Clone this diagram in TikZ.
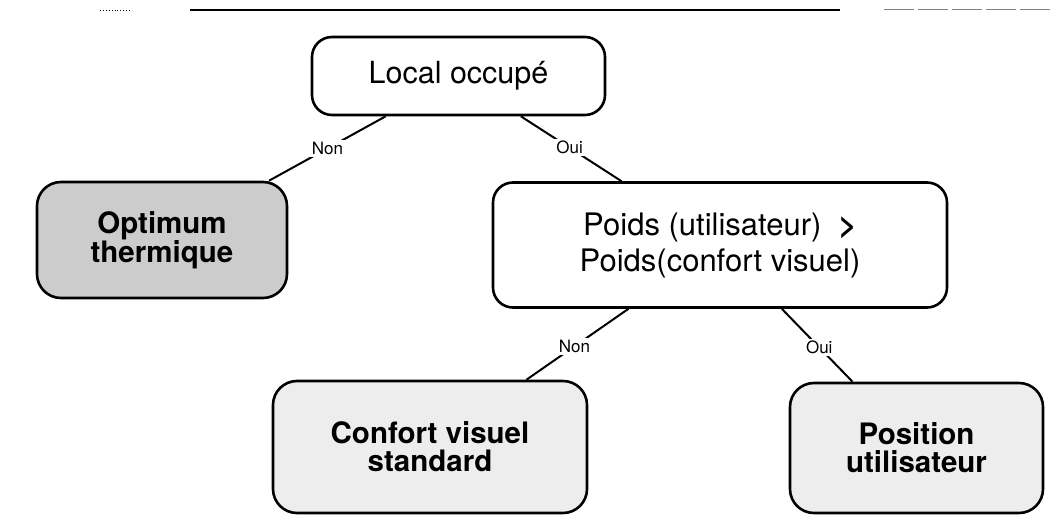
\documentclass[tikz,border=0pt]{standalone}
\usepackage{fontspec}
\setmainfont{TeX Gyre Heros}
\definecolor{shadeA}{gray}{0.80}
\definecolor{shadeB}{gray}{0.93}
\begin{document}
\begin{tikzpicture}[x=1pt,y=-1pt,
  box/.style={draw, line width=2.6pt, rounded corners=20pt, align=center, inner sep=0pt},
  big/.style={font=\fontsize{30.5}{28}\selectfont},
  bigb/.style={font=\fontsize{29.5}{28}\selectfont\bfseries},
  lbl/.style={fill=white, font=\fontsize{17}{17}\selectfont, inner sep=2pt},
  conn/.style={line width=2pt}]
\useasboundingbox (0,0) rectangle (1054,529);
% scan border line at top
\draw[line width=0.9pt, dotted] (100,10) -- (130,10);
\draw[line width=1.1pt] (190,10) -- (840,10);
\draw[line width=1pt, gray, dash pattern=on 30pt off 4pt] (884,10) -- (1050,10);
% nodes
\node[box, big, minimum width=293pt, minimum height=78pt] (top) at (458.5,76) {Local occupé};
\node[box, bigb, fill=shadeA, rounded corners=24pt, minimum width=250pt, minimum height=116pt] (opt) at (162,240) {Optimum\\thermique};
\node[box, font=\fontsize{31}{36}\selectfont, minimum width=454pt, minimum height=125pt] (poids) at (720,245) {Poids (utilisateur)~~\textbf{>}\\Poids(confort visuel)};
\node[box, bigb, fill=shadeB, rounded corners=24pt, minimum width=314pt, minimum height=132pt] (conf) at (430,447) {Confort visuel\\standard};
\node[box, bigb, fill=shadeB, rounded corners=24pt, minimum width=253pt, minimum height=130pt] (pos) at (916.5,448) {Position\\utilisateur};
% connectors
\draw[conn] (top) -- node[lbl, pos=0.5] (non1) {Non} (opt);
\draw[conn] (top) -- node[lbl, pos=0.485] (oui1) {Oui} (poids);
\draw[conn] (poids) -- node[lbl, pos=0.53] (non2) {Non} (conf);
\draw[conn] (poids) -- node[lbl, pos=0.53] (oui2) {Oui} (pos);
\end{tikzpicture}
\end{document}
